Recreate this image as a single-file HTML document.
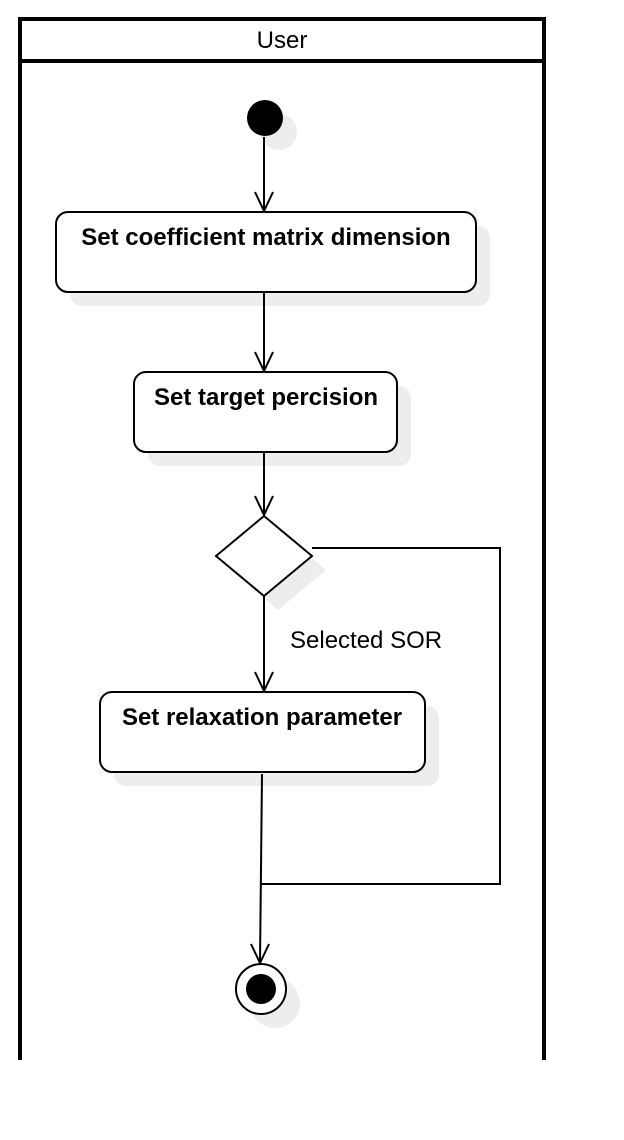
<!DOCTYPE html>
<html><head><meta charset="utf-8"><style>body{margin:0;background:#fff}svg{display:block}</style></head>
<body>
<svg width="624" height="1140" viewBox="0 0 624 1140" xmlns="http://www.w3.org/2000/svg" font-family="Liberation Sans, sans-serif">
<g fill="#000" fill-opacity="0.07" stroke="none">
<circle cx="279" cy="132" r="18"/>
<rect x="70" y="226" width="420" height="80" rx="12"/>
<rect x="148" y="386" width="263" height="80" rx="12"/>
<polygon points="278,530 326,570 278,610 230,570"/>
<rect x="114" y="706" width="325" height="80" rx="12"/>
<circle cx="275" cy="1003" r="25"/>
</g>
<g fill="none" stroke="#000" stroke-width="4">
<polyline points="20,1060 20,19 544,19 544,1060"/>
<line x1="20" y1="61" x2="544" y2="61"/>
</g>
<text x="282" y="48" font-size="24" text-anchor="middle">User</text>
<circle cx="265" cy="118" r="18" fill="#000"/>
<g fill="none" stroke="#000" stroke-width="2">
<line x1="264" y1="137" x2="264" y2="211"/>
<polyline points="255,192 264,211 273,192"/>
<rect x="56" y="212" width="420" height="80" rx="12" fill="#fff"/>
<line x1="264" y1="292" x2="264" y2="371"/>
<polyline points="255,352 264,371 273,352"/>
<rect x="134" y="372" width="263" height="80" rx="12" fill="#fff"/>
<line x1="264" y1="452" x2="264" y2="515"/>
<polyline points="255,496 264,515 273,496"/>
<polygon points="264,516 312,556 264,596 216,556" fill="#fff"/>
<polyline points="312,548 500,548 500,884 260,884"/>
<line x1="264" y1="596" x2="264" y2="691"/>
<polyline points="255,672 264,691 273,672"/>
<rect x="100" y="692" width="325" height="80" rx="12" fill="#fff"/>
<line x1="262" y1="774" x2="260" y2="963"/>
<polyline points="251,944 260,963 269,944"/>
<circle cx="261" cy="989" r="25" fill="#fff"/>
</g>
<circle cx="261" cy="989" r="15" fill="#000"/>
<g font-size="24" font-weight="bold" text-anchor="middle">
<text x="266" y="245">Set coefficient matrix dimension</text>
<text x="266" y="405">Set target percision</text>
<text x="262" y="725">Set relaxation parameter</text>
</g>
<text x="290" y="648" font-size="24">Selected SOR</text>
</svg>
</body></html>
